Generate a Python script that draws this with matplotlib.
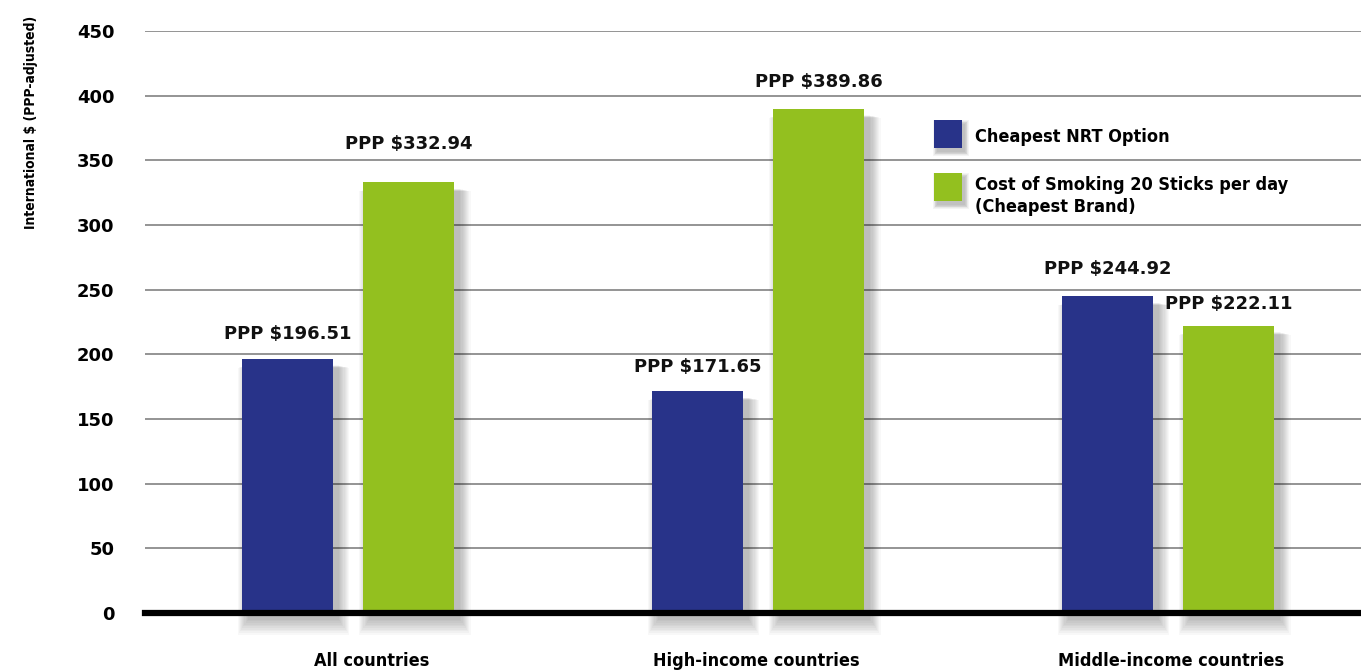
import matplotlib
matplotlib.use("Agg")
import matplotlib.pyplot as plt
from matplotlib.patches import Rectangle
import numpy as np

# data
groups = ["All countries", "High-income countries", "Middle-income countries"]
nrt_cost = [196.51, 171.65, 244.92]
smoking_cost = [332.94, 389.86, 222.11]
series_names = ["Cheapest NRT Option", "Cost of Smoking 20 Sticks per day\n(Cheapest Brand)"]
yticks = [0, 50, 100, 150, 200, 250, 300, 350, 400, 450]

# styling
blue = "#283389"
green = "#93c01f"
font = ["DejaVu Sans"]
bar_w = 0.222
offsets = [-0.148, 0.148]
# category label nudges (the original is not centred under each pair)
tick_shift = [0.057, -0.004, 0.006]
# label gap above each bar, in points (nrt, smoking) per group
label_gap = [(18, 28), (17.5, 19.3), (19.6, 15.7)]

fig = plt.figure(figsize=(13.61, 6.70), dpi=100)
ax = fig.add_axes([0.1065, 0.085, 0.8935, 0.8687])

x = np.arange(len(groups))


def soft_shadow(ax, x0, w, h, layers=10):
    # fake a blurred drop shadow with stacked translucent rectangles
    for i in range(layers):
        grow = 0.0028 * i
        ax.add_patch(Rectangle((x0 + 0.014 - grow, -5 - 1.3 * i), w + 2 * grow, h + 1.1 * i,
                               facecolor="black", alpha=0.028, lw=0, zorder=1.5,
                               clip_on=False))


for vals, off, col in [(nrt_cost, offsets[0], blue), (smoking_cost, offsets[1], green)]:
    for xi, v in zip(x, vals):
        soft_shadow(ax, xi + off - bar_w / 2, bar_w, v)
    ax.bar(x + off, vals, width=bar_w, color=col, zorder=3)

for i, xi in enumerate(x):
    for j, (vals, off) in enumerate([(nrt_cost, offsets[0]), (smoking_cost, offsets[1])]):
        ax.annotate(f"PPP ${vals[i]:.2f}", (xi + off, vals[i]), xytext=(0, label_gap[i][j]),
                    textcoords="offset points", ha="center", va="center",
                    fontsize=13, fontweight="bold", family=font, color="#111111")

ax.set_xlim(-0.496, 2.47)
ax.set_ylim(0, 450)
ax.set_yticks(yticks)
ax.set_yticklabels([str(t) for t in yticks], fontsize=13, fontweight="bold", family=font)
ax.tick_params(axis="y", length=0, pad=22)
ax.set_xticks(x + np.array(tick_shift))
ax.set_xticklabels(groups, fontsize=13, fontweight="bold", family=font, fontstretch="condensed")
ax.tick_params(axis="x", length=0, pad=28)
ax.grid(axis="y", color="#777777", linewidth=1.1, zorder=0)
ax.set_axisbelow(True)
for s in ["top", "right", "left"]:
    ax.spines[s].set_visible(False)
ax.spines["bottom"].set_linewidth(4.5)
ax.spines["bottom"].set_zorder(4)

fig.text(0.023, 1 - 122 / 670, "International $ (PPP-adjusted)", rotation=90, ha="center",
         va="center", fontsize=10, fontweight="bold", family=font, fontstretch="condensed")

# legend, drawn by hand in figure pixels
W, H = 1361, 670
legend_items = [(series_names[0], blue, 120, 8), (series_names[1], green, 173, 3)]
for name, col, ytop, tdy in legend_items:
    for i in range(6):
        g = i * 0.8
        fig.patches.append(Rectangle(((934 + 3 - g) / W, 1 - (ytop + 28 + 4 + g) / H),
                                     (28 + 2 * g) / W, (28 + 2 * g) / H, transform=fig.transFigure,
                                     facecolor="black", alpha=0.045, lw=0, zorder=2))
    fig.patches.append(Rectangle((934 / W, 1 - (ytop + 28) / H), 28 / W, 28 / H,
                                 transform=fig.transFigure, facecolor=col, lw=0, zorder=3))
    fig.text(975 / W, 1 - (ytop + tdy) / H, name, ha="left", va="top", fontsize=13,
             fontweight="bold", family=font, fontstretch="condensed", linespacing=1.3)

fig.savefig("out.png", dpi=100)
